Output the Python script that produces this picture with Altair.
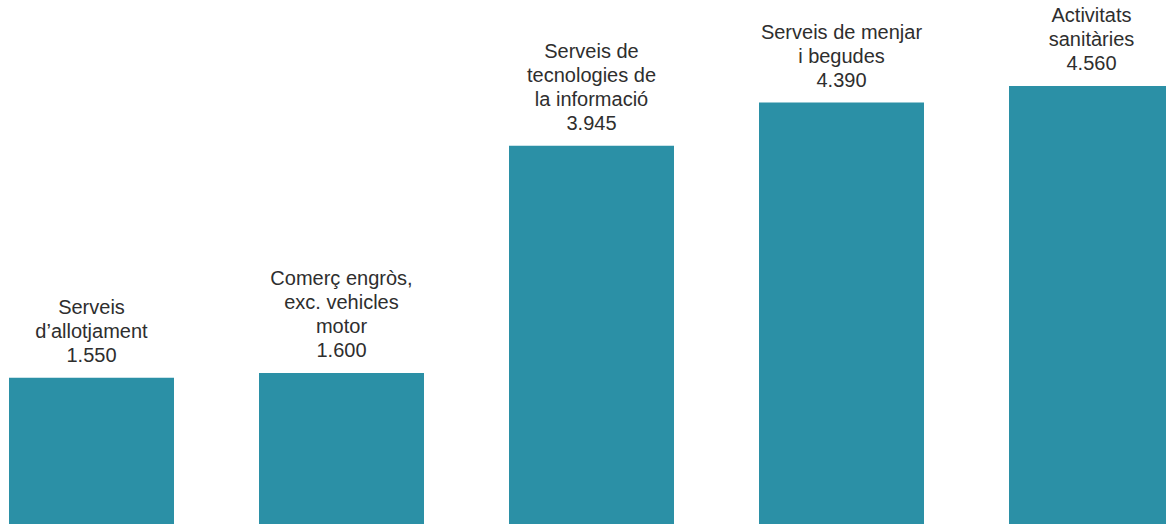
import altair as alt
import pandas as pd

categories = [
    "Serveis d’allotjament",
    "Comerç engròs, exc. vehicles motor",
    "Serveis de tecnologies de la informació",
    "Serveis de menjar i begudes",
    "Activitats sanitàries",
]
label_lines = [
    ["Serveis", "d’allotjament"],
    ["Comerç engròs,", "exc. vehicles", "motor"],
    ["Serveis de", "tecnologies de", "la informació"],
    ["Serveis de menjar", "i begudes"],
    ["Activitats", "sanitàries"],
]
values = [1550, 1600, 3945, 4390, 4560]


def fmt(v):
    return f"{v:,}".replace(",", ".")


df = pd.DataFrame({"cat": categories, "value": values})

rows = []
for cat, lines, v in zip(categories, label_lines, values):
    all_lines = lines + [fmt(v)]
    n = len(all_lines)
    for i, line in enumerate(all_lines):
        rows.append({"cat": cat, "value": v, "line": line, "k": n - 1 - i})
lab = pd.DataFrame(rows)

x = alt.X("cat:N", sort=categories, axis=None,
          scale=alt.Scale(range=[0, 1183], paddingInner=0.34, paddingOuter=0.036))
y = alt.Y("value:Q", axis=None,
          scale=alt.Scale(domain=[0, 5448], range=[528, 0], nice=False, zero=True))

bars = alt.Chart(df).mark_bar(color="#2b90a6").encode(x=x, y=y)

LINE_H = 24
layers = [bars]
for k in range(4):
    layers.append(
        alt.Chart(lab).transform_filter(alt.datum.k == k).mark_text(
            baseline="alphabetic", align="center", dy=-16 - LINE_H * k,
            fontSize=20, font="Liberation Sans", color="#2e2e2e",
        ).encode(x=x, y=y, text="line:N")
    )

chart = alt.layer(*layers).properties(
    width=1166, height=524, padding=0, autosize="none"
).configure_view(stroke=None)

chart.save("out.html", embed_options={"renderer": "svg", "actions": False})
